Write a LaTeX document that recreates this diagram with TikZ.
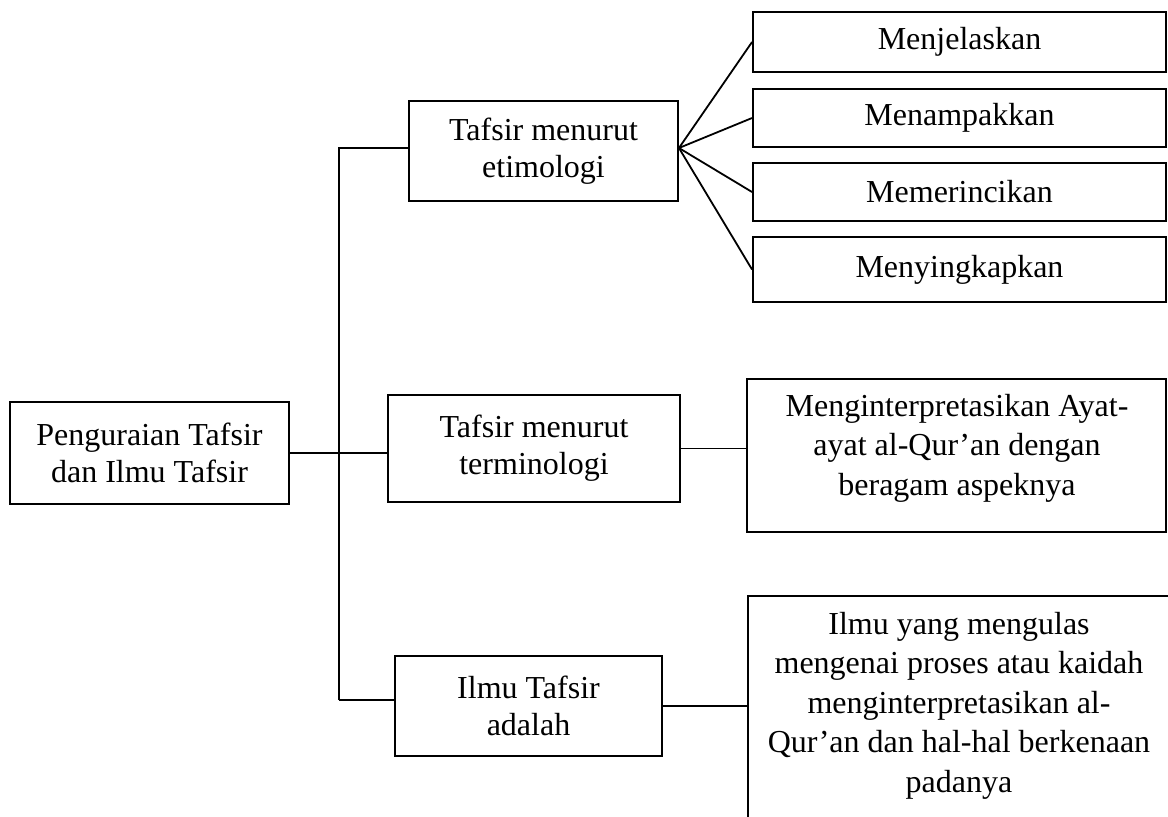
\documentclass[tikz,border=0pt]{standalone}
\usepackage{fontspec}
\setmainfont{Liberation Serif}
\begin{document}
\begin{tikzpicture}[x=1pt,y=-1pt,
  box/.style={draw, line width=1.9pt, inner sep=0pt, align=center, font=\fontsize{32}{37}\selectfont},
  txt/.style={inner sep=0pt, align=center, font=\fontsize{32}{39.5}\selectfont},
  link/.style={line width=1.8pt},
  thinlink/.style={line width=1.1pt}]
\useasboundingbox (0,0) rectangle (1168,817);
\clip (0,0) rectangle (1168,817);
% boxes
\node[box, minimum width=279, minimum height=102] (root) at (149.5,453) {Penguraian Tafsir\\dan Ilmu Tafsir};
\node[box, minimum width=269, minimum height=100] (tm) at (543.5,151) {Tafsir menurut\\etimologi};
\node[box, minimum width=292, minimum height=107] (mm) at (534,448.5) {Tafsir menurut\\terminologi};
\node[box, minimum width=267, minimum height=100] (bm) at (528.5,706) {Ilmu Tafsir\\adalah};
\node[box, minimum width=413, minimum height=60] (r1) at (959.5,42) {Menjelaskan};
\node[box, minimum width=413, minimum height=58] (r2) at (959.5,118) {Menampakkan};
\node[box, minimum width=413, minimum height=58] (r3) at (959.5,192) {Memerincikan};
\node[box, minimum width=413, minimum height=65] (r4) at (959.5,269.5) {Menyingkapkan};
\node[box, minimum width=419, minimum height=153] (rm) at (956.5,455.5) {};
\node[txt] (rmt) at (957,448) {Menginterpretasikan Ayat-\\ayat al-Qur\char"2019an dengan\\beragam aspeknya};
\node[box, minimum width=432, minimum height=254] (rb) at (964,723) {};
\node[txt] (rbt) at (959,705.5) {Ilmu yang mengulas\\mengenai proses atau kaidah\\menginterpretasikan al-\\Qur\char"2019an dan hal-hal berkenaan\\padanya};
% spine
\coordinate (sTop) at (339,148);
\coordinate (sBot) at (339,700);
\draw[link] (sBot) -- (sTop) -- (sTop -| tm.west);
\draw[link] (sBot) -- (sBot -| bm.west);
\draw[link] (root.east) -- (root.east -| mm.west);
% fan
\coordinate (fan) at ([yshift=3pt]tm.east);
\draw[link] (fan) -- (r1.west);
\draw[link] (fan) -- (r2.west);
\draw[link] (fan) -- (r3.west);
\draw[link] (fan) -- (r4.west);
% right links
\draw[link] (mm.east) -- (mm.east -| rm.west);
\draw[thinlink] (bm.east) -- (bm.east -| rb.west);
\end{tikzpicture}
\end{document}
